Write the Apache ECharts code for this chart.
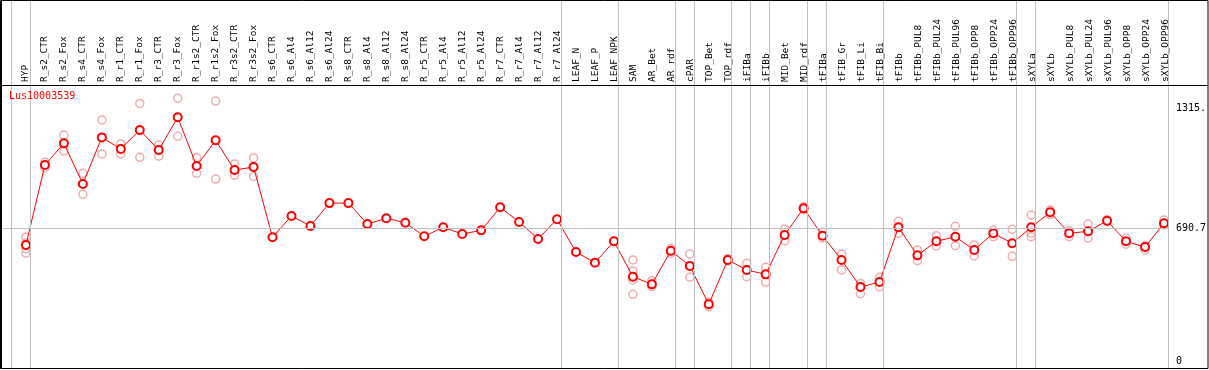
<!DOCTYPE html>
<html>
<head>
<meta charset="utf-8">
<title>Lus10003539</title>
<script src="https://cdn.jsdelivr.net/npm/echarts@6.0.0/dist/echarts.min.js"></script>
<style>
html, body { margin: 0; padding: 0; background: #fff; }
#chart { width: 1209px; height: 370px; }
</style>
</head>
<body>
<div id="chart"></div>
<script>
// gene / sample data
var geneName = 'Lus10003539';
var categories = ['HYP', 'R_s2_CTR', 'R_s2_Fox', 'R_s4_CTR', 'R_s4_Fox', 'R_r1_CTR', 'R_r1_Fox', 'R_r3_CTR', 'R_r3_Fox',
	'R_r1s2_CTR', 'R_r1s2_Fox', 'R_r3s2_CTR', 'R_r3s2_Fox', 'R_s6_CTR', 'R_s6_Al4', 'R_s6_Al12', 'R_s6_Al24',
	'R_s8_CTR', 'R_s8_Al4', 'R_s8_Al12', 'R_s8_Al24', 'R_r5_CTR', 'R_r5_Al4', 'R_r5_Al12', 'R_r5_Al24',
	'R_r7_CTR', 'R_r7_Al4', 'R_r7_Al12', 'R_r7_Al24', 'LEAF_N', 'LEAF_P', 'LEAF_NPK', 'SAM', 'AR_Bet', 'AR_rdf',
	'cPAR', 'TOP_Bet', 'TOP_rdf', 'iFIBa', 'iFIBb', 'MID_Bet', 'MID_rdf', 'tFIBa', 'tFIB_Gr', 'tFIB_Li', 'tFIB_Bi',
	'tFIBb', 'tFIBb_PUL8', 'tFIBb_PUL24', 'tFIBb_PUL96', 'tFIBb_OPP8', 'tFIBb_OPP24', 'tFIBb_OPP96',
	'sXYLa', 'sXYLb', 'sXYLb_PUL8', 'sXYLb_PUL24', 'sXYLb_PUL96', 'sXYLb_OPP8', 'sXYLb_OPP24', 'sXYLb_OPP96'];
var meanValues = [604, 1020, 1133, 921, 1164, 1104, 1202, 1098, 1269,
	1015, 1149, 994, 1010, 644, 755, 703, 822,
	822, 713, 743, 720, 649, 696, 661, 680,
	800, 724, 635, 738, 567, 512, 623, 439, 399, 574,
	495, 295, 526, 474, 451, 656, 795, 652, 526, 385, 411,
	696, 550, 623, 647, 578, 665, 613,
	696, 774, 665, 675, 730, 623, 593, 717];
var replicateValues = [[645, 614, 583, 562], [1034, 1020, 1006], [1176, 1093], [977, 868], [1255, 1078], [1130, 1078], [1341, 1060], [1124, 1066], [1368, 1170],
	[1058, 977], [1353, 947], [1026, 968], [1057, 961], [], [], [], [],
	[], [], [], [], [], [], [], [],
	[], [], [], [], [], [], [], [526, 469, 422, 347], [418, 387], [587, 561],
	[557, 436], [306, 283], [533, 520], [509, 439], [488, 411], [687, 625], [803, 788], [670, 639], [557, 474], [404, 350], [436, 387],
	[727, 665], [578, 522], [652, 599], [701, 600], [604, 547], [682, 647], [686, 545],
	[760, 665, 647], [786, 762], [678, 647], [713, 639], [735, 725], [639, 608], [578, 600], [734, 708]];
// sample index after which a group separator is drawn
var groupEnds = [-1, 0, 28, 31, 34, 35, 37, 38, 39, 41, 42, 45, 52, 53, 60];
var yTickValues = [0, 690.7, 1315];
var yTickLabels = ['0', '690.7', '1315.'];
var refValue = 690.7;

var FONT = "'DejaVu Sans Mono', monospace";

var chartPage = {
	init: function () {
		var lineData = [];
		var repData = [];
		for (var i = 0; i < categories.length; i++) {
			lineData.push([i, meanValues[i]]);
			for (var j = 0; j < replicateValues[i].length; j++) {
				repData.push([i, replicateValues[i][j]]);
			}
		}
		var sepLines = [];
		for (var k = 0; k < groupEnds.length; k++) {
			sepLines.push({ xAxis: groupEnds[k] + 4 / 19 });
		}
		sepLines.push([{ coord: [-26 / 19, refValue] }, { coord: [60 + 4 / 19, refValue] }]);
		chartPage.showChart(lineData, repData, sepLines);
	},
	showChart: function (lineData, repData, sepLines) {
		var myChart = echarts.init(document.getElementById('chart'));
		var option = {
			animation: false,
			title: {
				text: geneName,
				left: 9, top: 91, padding: 0,
				textStyle: { color: '#ff0000', fontSize: 10, fontWeight: 'normal', fontFamily: FONT }
			},
			grid: [
				{ left: 0, top: 0, width: 1209, height: 368 },
				{ left: 16.5, top: 0, width: 1159, height: 85 }
			],
			xAxis: [
				{ type: 'value', gridIndex: 0, min: -26 / 19, max: 1183 / 19, show: false },
				{
					type: 'category', gridIndex: 1, data: categories, boundaryGap: true,
					axisLine: { show: false }, axisTick: { show: false }, splitLine: { show: false },
					axisLabel: { inside: true, rotate: 90, interval: 0, margin: 3, color: '#000', fontSize: 9.5, fontFamily: FONT }
				}
			],
			yAxis: [
				{
					type: 'value', gridIndex: 0, position: 'right', min: -36.44, max: 1879.2,
					axisLine: { show: false }, axisTick: { show: false }, splitLine: { show: false },
					axisLabel: {
						inside: true, align: 'left', margin: 31, color: '#000', fontSize: 10, fontFamily: FONT,
						customValues: yTickValues, padding: [6, 0, 0, 0],
						formatter: function (v) {
							var idx = yTickValues.indexOf(v);
							return idx >= 0 ? yTickLabels[idx] : '';
						}
					}
				},
				{ type: 'value', gridIndex: 1, show: false }
			],
			graphic: [
				{ type: 'rect', shape: { x: 0.5, y: 0.5, width: 1207.5, height: 368 }, style: { fill: null, stroke: '#000', lineWidth: 1 }, z: 10 },
				{ type: 'line', shape: { x1: 0, y1: 85.5, x2: 1208, y2: 85.5 }, style: { stroke: '#000', lineWidth: 1 }, z: 10 },
				{ type: 'line', shape: { x1: 1.5, y1: 0, x2: 1.5, y2: 369 }, style: { stroke: '#000', lineWidth: 1 }, z: 10 }
			],
			series: [
				{
					name: 'replicates', type: 'scatter', xAxisIndex: 0, yAxisIndex: 0,
					symbol: 'circle', symbolSize: 8, z: 2,
					itemStyle: { color: 'rgba(0,0,0,0)', borderColor: '#ee9999', borderWidth: 1.5 },
					data: repData,
					markLine: {
						silent: true, symbol: 'none', animation: false,
						label: { show: false },
						lineStyle: { color: '#c0c0c0', width: 1, type: 'solid' },
						data: sepLines
					}
				},
				{
					name: geneName, type: 'line', xAxisIndex: 0, yAxisIndex: 0,
					symbol: 'emptyCircle', symbolSize: 8, z: 3,
					lineStyle: { color: '#ff0000', width: 1 },
					itemStyle: { color: '#ff0000', borderWidth: 1.5 },
					data: lineData
				}
			]
		};
		myChart.setOption(option);
	}
};

chartPage.init();
</script>
</body>
</html>
